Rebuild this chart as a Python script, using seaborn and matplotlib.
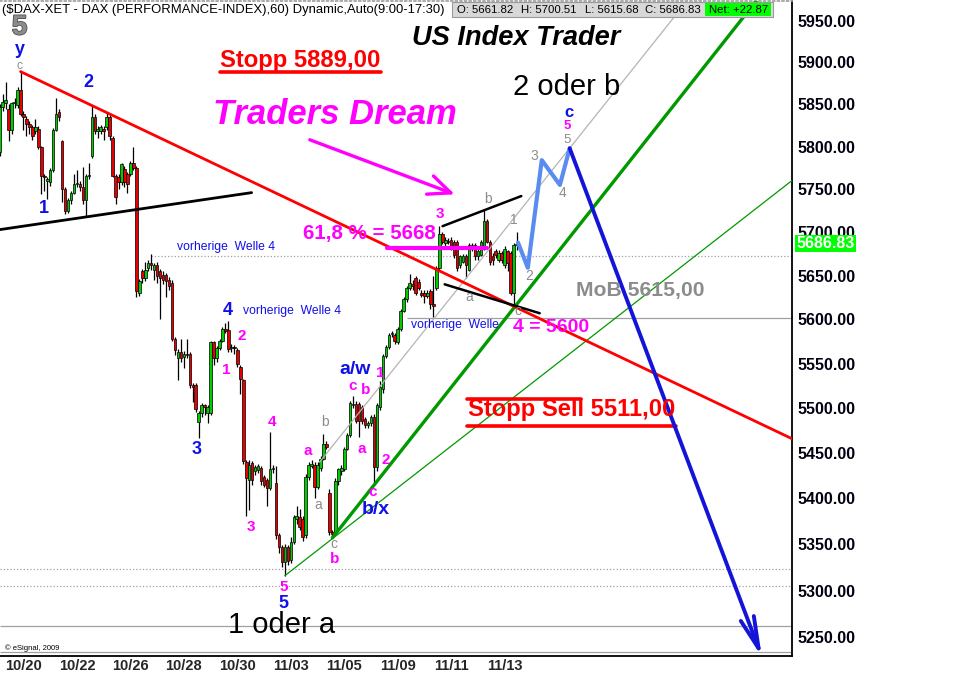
import numpy as np
import pandas as pd
import matplotlib
matplotlib.use("Agg")
import matplotlib.pyplot as plt
import matplotlib.transforms as mtransforms
import matplotlib.patheffects as pe
from matplotlib.patches import Rectangle
from matplotlib.ticker import FixedLocator, FixedFormatter, NullLocator
import seaborn as sns

# ---------------- data ----------------
date_labels = ["10/20", "10/22", "10/26", "10/28", "10/30", "11/03", "11/05", "11/09", "11/11", "11/13"]
date_label_bars = [8, 26, 44, 62, 80, 98, 116, 134, 152, 170]
price_ticks = [5250, 5300, 5350, 5400, 5450, 5500, 5550, 5600, 5650, 5700, 5750, 5800, 5850, 5900, 5950]

opens = [5794, 5847, 5851, 5845, 5820, 5851, 5849, 5867, 5839, 5833,
         5827, 5823, 5818, 5821, 5800, 5766, 5760, 5758, 5772, 5820,
         5841, 5806, 5750, 5725, 5737, 5746, 5756, 5756, 5752, 5737,
         5766, 5789, 5835, 5818, 5818, 5821, 5823, 5835, 5810, 5766,
         5764, 5758, 5774, 5768, 5768, 5781, 5775, 5630, 5655, 5647,
         5659, 5664, 5657, 5662, 5655, 5651, 5651, 5645, 5642, 5578,
         5556, 5563, 5557, 5561, 5561, 5526, 5526, 5485, 5494, 5503,
         5494, 5494, 5574, 5556, 5568, 5576, 5589, 5588, 5567, 5569,
         5565, 5546, 5531, 5440, 5420, 5439, 5430, 5431, 5433, 5424,
         5420, 5411, 5432, 5417, 5360, 5347, 5331, 5347, 5333, 5352,
         5378, 5380, 5378, 5360, 5424, 5436, 5437, 5413, 5433, 5444,
         5460, 5406, 5363, 5363, 5419, 5430, 5432, 5455, 5470, 5503,
         5505, 5505, 5501, 5488, 5481, 5483, 5490, 5435, 5501, 5521,
         5559, 5569, 5583, 5582, 5574, 5589, 5610, 5623, 5636, 5640,
         5647, 5643, 5630, 5630, 5627, 5632, 5617, 5636, 5659, 5698,
         5687, 5690, 5691, 5689, 5689, 5662, 5666, 5672, 5657, 5681,
         5685, 5672, 5674, 5681, 5713, 5689, 5672, 5678, 5668, 5676,
         5661.82, 5678, 5676, 5630, 5685]
highs = [5850, 5862, 5876, 5850, 5853, 5858, 5870, 5889, 5842, 5836,
         5830, 5826, 5833, 5824, 5801, 5768, 5764, 5775, 5822, 5857,
         5845, 5808, 5752, 5740, 5748, 5768, 5772, 5760, 5776, 5768,
         5781, 5849, 5838, 5824, 5826, 5824, 5841, 5837, 5812, 5768,
         5768, 5781, 5777, 5770, 5783, 5800, 5777, 5646, 5658, 5666,
         5668, 5675, 5665, 5666, 5658, 5655, 5653, 5648, 5645, 5580,
         5566, 5578, 5564, 5578, 5563, 5528, 5528, 5497, 5506, 5505,
         5503, 5576, 5576, 5570, 5578, 5591, 5596, 5598, 5572, 5571,
         5567, 5548, 5533, 5442, 5442, 5441, 5437, 5438, 5436, 5426,
         5423, 5473, 5437, 5436, 5362, 5349, 5350, 5349, 5358, 5382,
         5392, 5389, 5381, 5427, 5440, 5442, 5440, 5440, 5447, 5471,
         5463, 5410, 5365, 5422, 5434, 5437, 5457, 5472, 5508, 5514,
         5508, 5507, 5503, 5490, 5486, 5492, 5493, 5506, 5530, 5561,
         5571, 5584, 5587, 5585, 5591, 5612, 5625, 5638, 5652, 5645,
         5650, 5646, 5633, 5633, 5634, 5635, 5649, 5661, 5707, 5700,
         5694, 5693, 5694, 5691, 5691, 5674, 5675, 5675, 5687, 5688,
         5687, 5681, 5691, 5727, 5715, 5691, 5676, 5681, 5680, 5678,
         5684, 5680, 5678, 5688, 5700.51]
lows = [5789, 5842, 5845, 5806, 5815, 5846, 5846, 5836, 5820, 5812,
        5815, 5808, 5815, 5797, 5744, 5748, 5739, 5754, 5770, 5818,
        5830, 5735, 5721, 5722, 5733, 5744, 5752, 5748, 5733, 5719,
        5762, 5786, 5815, 5810, 5815, 5808, 5820, 5808, 5764, 5733,
        5750, 5755, 5752, 5746, 5765, 5772, 5626, 5627, 5642, 5644,
        5655, 5657, 5645, 5642, 5600, 5640, 5625, 5633, 5576, 5560,
        5531, 5552, 5545, 5556, 5522, 5507, 5496, 5467, 5490, 5492,
        5483, 5492, 5548, 5552, 5565, 5574, 5584, 5563, 5563, 5561,
        5546, 5516, 5438, 5381, 5387, 5415, 5426, 5428, 5415, 5413,
        5392, 5409, 5428, 5356, 5340, 5325, 5316, 5328, 5330, 5350,
        5372, 5365, 5354, 5357, 5420, 5433, 5401, 5410, 5430, 5442,
        5455, 5360, 5357, 5360, 5415, 5426, 5430, 5453, 5468, 5500,
        5483, 5468, 5482, 5478, 5478, 5480, 5415, 5430, 5498, 5517,
        5556, 5566, 5580, 5572, 5572, 5587, 5608, 5620, 5633, 5633,
        5628, 5633, 5625, 5619, 5624, 5612, 5603, 5633, 5657, 5686,
        5684, 5686, 5680, 5670, 5655, 5659, 5664, 5647, 5655, 5678,
        5668, 5668, 5672, 5679, 5687, 5662, 5662, 5670, 5666, 5664,
        5659, 5655, 5628, 5615.68, 5680]
closes = [5847, 5853, 5855, 5820, 5851, 5853, 5867, 5839, 5835, 5827,
          5823, 5812, 5823, 5800, 5766, 5764, 5762, 5772, 5820, 5839,
          5835, 5750, 5725, 5737, 5746, 5756, 5757, 5752, 5737, 5766,
          5767, 5835, 5818, 5821, 5823, 5818, 5835, 5812, 5766, 5741,
          5758, 5779, 5758, 5756, 5781, 5775, 5632, 5644, 5647, 5657,
          5664, 5662, 5662, 5649, 5647, 5645, 5644, 5638, 5578, 5565,
          5563, 5556, 5561, 5560, 5526, 5524, 5499, 5494, 5503, 5501,
          5501, 5574, 5556, 5568, 5576, 5589, 5587, 5566, 5569, 5567,
          5550, 5533, 5441, 5422, 5437, 5420, 5435, 5436, 5419, 5415,
          5411, 5432, 5434, 5360, 5347, 5331, 5347, 5332, 5352, 5380,
          5381, 5369, 5358, 5424, 5437, 5438, 5413, 5437, 5444, 5460,
          5457, 5363, 5361, 5419, 5432, 5433, 5455, 5470, 5506, 5505,
          5486, 5486, 5486, 5481, 5483, 5490, 5435, 5503, 5524, 5559,
          5569, 5582, 5584, 5576, 5589, 5610, 5623, 5636, 5641, 5638,
          5630, 5636, 5628, 5627, 5630, 5617, 5615, 5659, 5698, 5689,
          5691, 5689, 5683, 5674, 5659, 5672, 5672, 5662, 5685, 5685,
          5672, 5678, 5689, 5713, 5689, 5666, 5668, 5674, 5676, 5668,
          5681, 5664, 5630, 5685, 5686.83]

# trend lines: (bar index, price)
resistance_bars = [7, 266.7]
resistance_prices = [5889, 5466]
triangle_base_bars = [0, 84.8]
triangle_base_prices = [5703, 5746]
green_main_bars = [112, 254.9]
green_main_prices = [5357, 5975]
green_thin_bars = [96, 266.7]
green_thin_prices = [5316, 5760]
gray_channel_bars = [107.7, 231.6]
gray_channel_prices = [5440, 5975]
wedge_top_bars = [149.1, 175.6]
wedge_top_prices = [5707, 5742]
wedge_bottom_bars = [149.8, 181.8]
wedge_bottom_prices = [5640, 5607]
fib_bars = [130.3, 164]
fib_prices = [5682, 5682]
projection_bars = [174.5, 177.8, 182.5, 188.6, 191.9]
projection_prices = [5688, 5659, 5784, 5755, 5798]
target_bar = 256.6
target_price = 5229
dream_arrow_bars = [104.4, 153.2]
dream_arrow_prices = [5808, 5744]

# horizontal levels
level_prices = [5672, 5601.5, 5323, 5305, 5262, 5234]
level_start_bars = [51, 137, 0, 0, 0, 0]
level_styles = [":", "-", ":", ":", "-", "-"]
stop_high_bars = [74, 128.3]
stop_high_price = 5888
stop_sell_bars = [157.2, 195.6]
stop_sell_price = 5510
stop_sell_underline_bars = [157.2, 227.6]
stop_sell_underline_price = 5480

GRAY = "#8c8c8c"
BLUE = "#1010e8"
MAG = "#ff00ff"
RED = "#ff0000"
BLK = "#000000"

label_texts = ["5", "y", "c", "2", "1", "Stopp 5889,00", "US Index Trader", "2 oder b",
               "c", "5", "5", "3", "4", "Traders Dream", "3", "b", "1", "2", "a", "c",
               "4 = 5600", "61,8 % = 5668", "MoB 5615,00", "vorherige  Welle 4",
               "vorherige  Welle 4", "vorherige  Welle", "4", "2", "1", "3", "4", "3",
               "5", "5", "1 oder a", "a/w", "c", "b", "1", "a", "b", "a", "a", "2", "c",
               "b/x", "c", "b", "Stopp Sell 5511,00"]
label_bars = [6.7, 6.7, 6.7, 30, 14.8, 101, 174, 191, 191.6, 191.2, 191, 180, 189.6, 112.8,
              148.1, 164.3, 173, 178.1, 158.2, 174.4, 185.5, 124.6, 215.8, 76.1, 98.3, 153.2,
              76.8, 81.5, 76.4, 66.3, 91.6, 84.5, 95.6, 95.6, 95, 119.5, 118.9, 123.2, 128,
              103.7, 109.4, 107.4, 121.9, 130, 125.6, 126.6, 112.5, 112.8, 192.6]
label_prices = [5942, 5915, 5896, 5876, 5727, 5902, 5929, 5871, 5840, 5824, 5808, 5789, 5745,
                5838, 5721, 5738, 5714, 5650, 5626, 5609, 5591, 5699, 5633, 5683, 5610, 5594,
                5610, 5581, 5543, 5454, 5484, 5369, 5304, 5286, 5263, 5543, 5525, 5520, 5539,
                5452, 5484, 5393, 5454, 5442, 5407, 5388, 5350, 5334, 5498]
label_colors = [GRAY, BLUE, GRAY, BLUE, BLUE, RED, BLK, BLK, BLUE, MAG, GRAY, GRAY, GRAY, MAG,
                MAG, GRAY, GRAY, GRAY, GRAY, GRAY, MAG, MAG, GRAY, BLUE, BLUE, BLUE, BLUE, MAG,
                MAG, BLUE, MAG, MAG, MAG, BLUE, BLK, BLUE, MAG, MAG, MAG, MAG, GRAY, GRAY, MAG,
                MAG, MAG, BLUE, GRAY, MAG, RED]
label_sizes = [20, 13, 8.5, 13, 13, 17.2, 19.6, 21, 12, 9.5, 9.5, 10, 10, 24.9, 11, 10, 10, 10,
               10, 10, 14, 14.8, 15.2, 8.7, 8.7, 8.7, 13, 11, 11, 13, 11, 11, 11, 13, 21, 14,
               11, 11, 11, 11, 10, 10, 11, 11, 11, 14, 10, 11, 17.1]
label_weights = ["bold", "bold", "normal", "bold", "bold", "bold", "bold", "normal", "bold",
                 "bold", "normal", "normal", "normal", "bold", "bold", "normal", "normal",
                 "normal", "normal", "normal", "bold", "bold", "bold", "normal", "normal",
                 "normal", "bold", "bold", "bold", "bold", "bold", "bold", "bold", "bold",
                 "normal", "bold", "bold", "bold", "bold", "bold", "normal", "normal", "bold",
                 "bold", "bold", "bold", "normal", "bold", "bold"]
label_italic = ["US Index Trader", "Traders Dream"]

# ---------------- figure ----------------
sns.set_theme(style="white")
plt.rcParams["font.family"] = ["Liberation Sans", "DejaVu Sans"]

fig = plt.figure(figsize=(9.6, 6.77), dpi=100)
ax = fig.add_axes([0, 21 / 677, 792 / 960, 655 / 677])
ax.set_yscale("log")

df = pd.DataFrame({"bar": np.arange(len(closes)), "open": opens, "high": highs,
                   "low": lows, "close": closes})
df["up"] = df["close"] >= df["open"]
df["body_lo"] = df[["open", "close"]].min(axis=1)
df["body_h"] = (df["close"] - df["open"]).abs().clip(lower=0.9)

ax.vlines(df["bar"], df["low"], df["high"], color="black", lw=0.9, zorder=3)
ax.bar(df["bar"], df["body_h"], bottom=df["body_lo"], width=0.85,
       color=np.where(df["up"], "#00cc00", "#e80000"), edgecolor="black", linewidth=0.5,
       zorder=4)

# horizontal levels
for p, b0, ls in zip(level_prices, level_start_bars, level_styles):
    ax.hlines(p, b0, 266.75, colors="#a0a0a0", linestyles=ls, lw=0.9, zorder=1)

def seg(bx, py, color, lw, z=5):
    sns.lineplot(x=bx, y=py, ax=ax, color=color, lw=lw, sort=False, estimator=None,
                 zorder=z)

seg(gray_channel_bars, gray_channel_prices, "#b4b4b4", 0.9)
seg(green_thin_bars, green_thin_prices, "#009900", 0.9)
seg(green_main_bars, green_main_prices, "#009900", 2.4)
seg(resistance_bars, resistance_prices, "#ff0000", 2.0)
seg(triangle_base_bars, triangle_base_prices, "#000000", 2.0)
seg(wedge_top_bars, wedge_top_prices, "#000000", 1.8)
seg(wedge_bottom_bars, wedge_bottom_prices, "#000000", 1.8)
seg(fib_bars, fib_prices, MAG, 3.0)
seg(stop_high_bars, [stop_high_price] * 2, RED, 2.6)
seg(stop_sell_bars, [stop_sell_price] * 2, RED, 2.6)
seg(stop_sell_underline_bars, [stop_sell_underline_price] * 2, RED, 2.6)
seg(projection_bars, projection_prices, "#5a8cf0", 3.0, z=6)

ax.annotate("", xy=(target_bar, target_price), xytext=(projection_bars[-1], projection_prices[-1]),
            arrowprops=dict(arrowstyle="->,head_length=1.15,head_width=0.25", color="#1414d8",
                            lw=2.8, mutation_scale=20, shrinkA=0, shrinkB=0),
            annotation_clip=False, zorder=7)
ax.annotate("", xy=(dream_arrow_bars[1], dream_arrow_prices[1]),
            xytext=(dream_arrow_bars[0], dream_arrow_prices[0]),
            arrowprops=dict(arrowstyle="->,head_length=0.8,head_width=0.35", color=MAG,
                            lw=2.4, mutation_scale=20, shrinkA=0, shrinkB=0), zorder=7)

for t, b, p, c, s, w in zip(label_texts, label_bars, label_prices, label_colors,
                            label_sizes, label_weights):
    kw = {}
    if t in label_italic:
        kw["style"] = "italic"
    txt = ax.text(b, p, t, color=c, fontsize=s, fontweight=w, ha="center", va="center",
                  zorder=8, **kw)
    if t == "5" and s >= 20:
        txt.set_path_effects([pe.withStroke(linewidth=1.2, foreground="#505050")])

# axes styling
ax.set_xlim(0.09, 266.75)
ax.set_ylim(5230, 5974)
ax.yaxis.tick_right()
ax.yaxis.set_major_locator(FixedLocator(price_ticks))
ax.yaxis.set_major_formatter(FixedFormatter([f"{v:.2f}" for v in price_ticks]))
ax.yaxis.set_minor_locator(NullLocator())
ax.xaxis.set_major_locator(FixedLocator(date_label_bars))
ax.xaxis.set_major_formatter(FixedFormatter(date_labels))
ax.tick_params(axis="y", length=0, pad=4, labelsize=11.5, labelcolor="#000010")
ax.tick_params(axis="x", length=0, pad=2, labelsize=10.5)
for lab in ax.get_yticklabels() + ax.get_xticklabels():
    lab.set_fontweight("bold")
ax.spines["left"].set_visible(False)
ax.spines["top"].set_linestyle(":")
ax.spines["top"].set_color("#a0a0a0")
ax.spines["right"].set_color("black")
ax.spines["bottom"].set_color("black")
ax.spines["right"].set_linewidth(1.3)
ax.spines["bottom"].set_linewidth(1.3)
ax.set_xlabel("")
ax.set_ylabel("")
ax.grid(False)

# last price marker on the price axis
trans = mtransforms.blended_transform_factory(ax.transAxes, ax.transData)
ax.text(1.006, closes[-1], f"{closes[-1]:.2f}", transform=trans, ha="left", va="center",
        color="white", fontsize=11.5, fontweight="bold", clip_on=False, zorder=10,
        bbox=dict(boxstyle="square,pad=0.08", fc="#00ff00", ec="none"))

# header texts
fig.text(2 / 960, 1 - 10 / 677, "($DAX-XET - DAX (PERFORMANCE-INDEX),60) Dynamic,Auto(9:00-17:30)",
         fontsize=9.4, va="center", ha="left", color="black")
fig.add_artist(Rectangle((452 / 960, 1 - 17 / 677), 321 / 960, 15 / 677, transform=fig.transFigure,
                         fc="#d8d8d8", ec="#9a9a9a", lw=0.8, zorder=5))
fig.add_artist(Rectangle((705 / 960, 1 - 16 / 677), 66 / 960, 13 / 677, transform=fig.transFigure,
                         fc="#00ff00", ec="none", zorder=6))
info_texts = ["O: 5661.82", "H: 5700.51", "L: 5615.68", "C: 5686.83", "Net: +22.87"]
info_x = [457, 521, 585, 645, 709]
for t, x in zip(info_texts, info_x):
    fig.text(x / 960, 1 - 10 / 677, t, fontsize=8.2, va="center", ha="left", color="black",
             zorder=7)
fig.text(5 / 960, 1 - 648 / 677, "© eSignal, 2009", fontsize=5.5, va="center", ha="left",
         color="black")

fig.savefig("out.png", dpi=100)
